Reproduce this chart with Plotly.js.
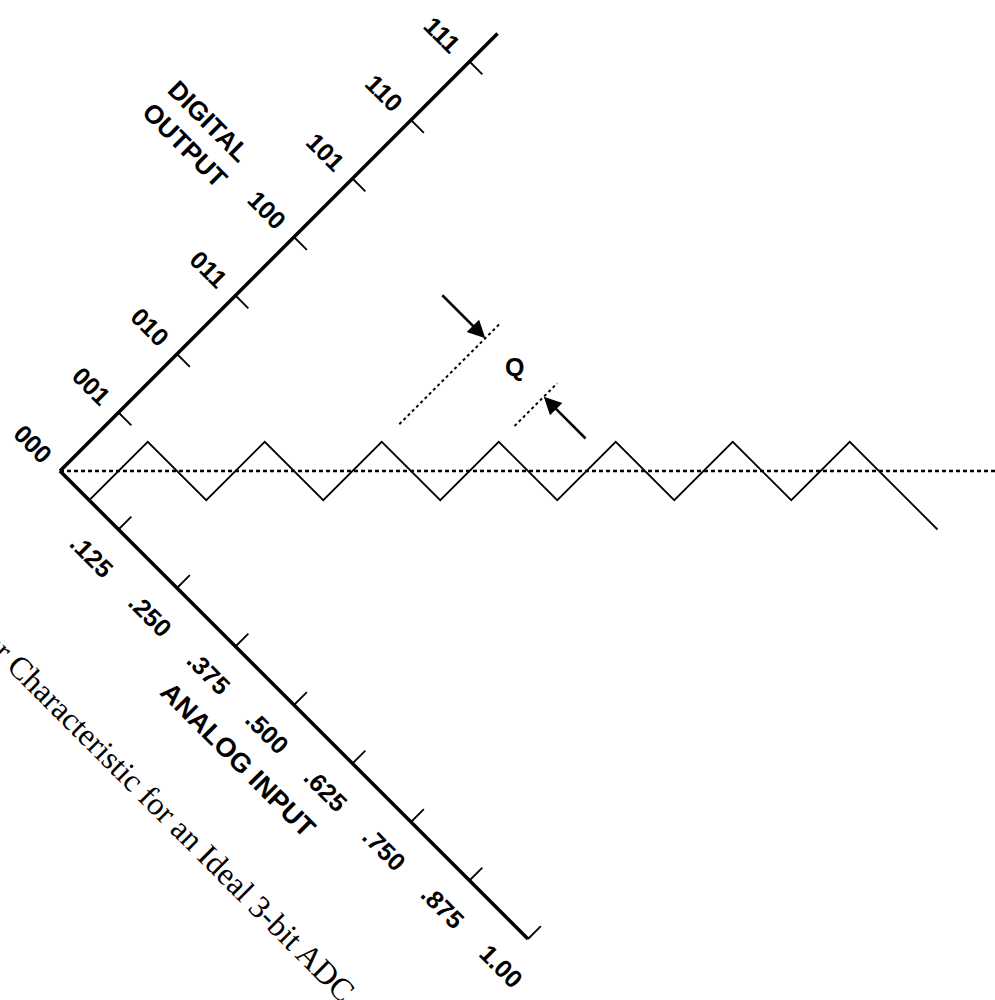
<!DOCTYPE html>
<html>
<head>
<meta charset="utf-8">
<script src="https://cdn.plot.ly/plotly-3.0.1.min.js"></script>
<style>html,body{margin:0;padding:0;background:#fff;}#chart{width:995px;height:1000px;}</style>
</head>
<body>
<div id="chart"></div>
<script>
// ---- data ----
const analogTicks = [0.125, 0.25, 0.375, 0.5, 0.625, 0.75, 0.875, 1.0];
const analogLabels = ['.125', '.250', '.375', '.500', '.625', '.750', '.875', '1.00'];
const digitalCodes = [0, 1, 2, 3, 4, 5, 6, 7];
const digitalLabels = ['000', '001', '010', '011', '100', '101', '110', '111'];
const stairAnalog = [0, 0.0625, 0.0625, 0.1875, 0.1875, 0.3125, 0.3125, 0.4375, 0.4375, 0.5625, 0.5625, 0.6875, 0.6875, 0.8125, 0.8125, 1.0];
const stairCode   = [0, 0, 1, 1, 2, 2, 3, 3, 4, 4, 5, 5, 6, 6, 7, 7];
const idealAnalog = [0, 1.0];
const idealCode = [0, 8];
const qEdgesAnalog = [0.3125, 0.4375];   // one quantum Q apart
const qLabel = 'Q';
const captionText = 'Transfer Characteristic for an Ideal 3-bit ADC';

// ---- rotated frame: analog runs down-right, digital up-right ----
const FS = 8; // codes per full scale
function X(a, d) { return FS * a + d; }
function Y(a, d) { return d - FS * a; }
function seg(aArr, dArr) { return {x: aArr.map((a, i) => X(a, dArr[i])), y: aArr.map((a, i) => Y(a, dArr[i]))}; }

const TICK = 0.22;      // tick length in LSB
const LBL = 0.46;       // label offset in LSB
const digitalAxisEnd = 7.48;

const traces = [];
function line(pts, width, dash) {
  traces.push({x: pts.x, y: pts.y, mode: 'lines', type: 'scatter', hoverinfo: 'skip',
    line: {color: '#000', width: width, dash: dash || 'solid'}});
}
// axes
line(seg([0, 0], [0, digitalAxisEnd]), 3.5);
line(seg([0, analogTicks[analogTicks.length - 1]], [0, 0]), 3.5);
// ticks
(function () {
  const dx = [], dy = [];
  digitalCodes.slice(1).forEach(c => {
    dx.push(X(0, c), X(TICK / FS, c), null); dy.push(Y(0, c), Y(TICK / FS, c), null);
  });
  traces.push({x: dx, y: dy, mode: 'lines', type: 'scatter', hoverinfo: 'skip', line: {color: '#000', width: 1.8}});
  const ax = [], ay = [];
  analogTicks.forEach(a => {
    ax.push(X(a, 0), X(a, TICK), null); ay.push(Y(a, 0), Y(a, TICK), null);
  });
  traces.push({x: ax, y: ay, mode: 'lines', type: 'scatter', hoverinfo: 'skip', line: {color: '#000', width: 1.8}});
})();
// ideal line
line(seg(idealAnalog, idealCode), 2.5, '4px,3px');
// staircase
line(seg(stairAnalog, stairCode), 1.8);
// Q extension lines
line(seg([qEdgesAnalog[0], qEdgesAnalog[0]], [3.3, 5.02]), 2, '3px,3px');
line(seg([qEdgesAnalog[1], qEdgesAnalog[1]], [4.27, 5.0]), 2, '3px,3px');

const annotations = [];
const bold = (size) => ({family: 'Liberation Sans, Arial, sans-serif', size: size, color: '#000', weight: 'bold'});
digitalCodes.forEach((c, i) => {
  annotations.push({x: X(-LBL / FS, c), y: Y(-LBL / FS, c), xref: 'x', yref: 'y', text: digitalLabels[i],
    showarrow: false, textangle: 45, xanchor: 'center', yanchor: 'middle', font: bold(25)});
});
analogTicks.forEach((a, i) => {
  annotations.push({x: X(a, -LBL), y: Y(a, -LBL), xref: 'x', yref: 'y', text: analogLabels[i],
    showarrow: false, textangle: 45, xanchor: 'center', yanchor: 'middle', font: bold(25)});
});
annotations.push({x: X(-1.72 / FS, 4.05), y: Y(-1.72 / FS, 4.05), xref: 'x', yref: 'y', text: 'DIGITAL<br>OUTPUT',
  showarrow: false, textangle: 45, xanchor: 'center', yanchor: 'middle', align: 'center', font: bold(26)});
annotations.push({x: X(0.499, -0.95), y: Y(0.499, -0.95), xref: 'x', yref: 'y', text: 'ANALOG INPUT',
  showarrow: false, textangle: 45, xanchor: 'center', yanchor: 'middle', font: bold(27)});
// Q label & arrows
const qMid = (qEdgesAnalog[0] + qEdgesAnalog[1]) / 2, qV = 4.77;
annotations.push({x: X(qMid, qV), y: Y(qMid, qV), xref: 'x', yref: 'y', text: qLabel, showarrow: false,
  xanchor: 'center', yanchor: 'middle', font: bold(25)});
annotations.push({x: X(qEdgesAnalog[0], qV), y: Y(qEdgesAnalog[0], qV), ax: X(1.74 / FS, qV), ay: Y(1.74 / FS, qV),
  xref: 'x', yref: 'y', axref: 'x', ayref: 'y', text: '', showarrow: true, arrowhead: 2, arrowsize: 1.4, arrowwidth: 2.5, arrowcolor: '#000', standoff: 0});
annotations.push({x: X(qEdgesAnalog[1], qV), y: Y(qEdgesAnalog[1], qV), ax: X(4.24 / FS, qV), ay: Y(4.24 / FS, qV),
  xref: 'x', yref: 'y', axref: 'x', ayref: 'y', text: '', showarrow: true, arrowhead: 2, arrowsize: 1.4, arrowwidth: 2.5, arrowcolor: '#000', standoff: 0});
// caption
annotations.push({x: X(3.39 / FS, -2.02), y: Y(3.39 / FS, -2.02), xref: 'x', yref: 'y', text: captionText,
  showarrow: false, textangle: 45, xanchor: 'center', yanchor: 'middle',
  font: {family: 'Liberation Serif, Times New Roman, serif', size: 32, color: '#000'}});

const PX = 58.5, OX = 60, OY = 471, W = 995, H = 1000;
const layout = {
  width: W, height: H, margin: {l: 0, r: 0, t: 0, b: 0, pad: 0},
  paper_bgcolor: '#fff', plot_bgcolor: '#fff', showlegend: false,
  xaxis: {range: [-OX / PX, (W - OX) / PX], visible: false, fixedrange: true},
  yaxis: {range: [-(H - OY) / PX, OY / PX], visible: false, fixedrange: true},
  annotations: annotations
};
Plotly.newPlot('chart', traces, layout, {staticPlot: true, displayModeBar: false});
</script>
</body>
</html>
